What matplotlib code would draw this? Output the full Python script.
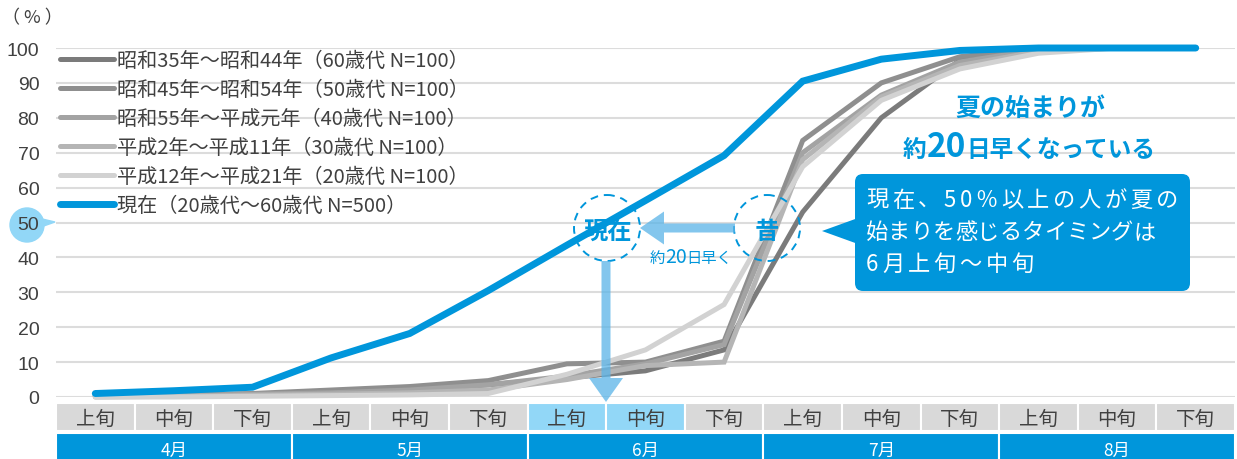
import matplotlib
matplotlib.use("Agg")
import matplotlib.pyplot as plt
from matplotlib.patches import Rectangle, Circle, FancyBboxPatch, Polygon, FancyArrow
from matplotlib.transforms import blended_transform_factory

plt.rcParams['font.family'] = ['Noto Sans CJK JP', 'DejaVu Sans']

# --- data -------------------------------------------------------------
periods = ['上旬', '中旬', '下旬'] * 5
months = ['4月', '5月', '6月', '7月', '8月']
highlight_periods = [6, 7]  # 6月上旬・中旬

series_labels = [
    '昭和35年～昭和44年（60歳代 N=100）',
    '昭和45年～昭和54年（50歳代 N=100）',
    '昭和55年～平成元年（40歳代 N=100）',
    '平成2年～平成11年（30歳代 N=100）',
    '平成12年～平成21年（20歳代 N=100）',
    '現在（20歳代～60歳代 N=500）',
]
showa35 = [0.3, 0.5, 0.8, 1.5, 2.0, 3.5, 5.5, 7.5, 13.5, 53.0, 80.0, 96.5, 99.5, 100, 100]
showa45 = [0.3, 0.5, 1.0, 2.0, 3.0, 4.7, 9.5, 10.0, 16.0, 73.5, 90.0, 97.5, 100, 100, 100]
showa55 = [0.2, 0.4, 0.8, 1.2, 2.0, 3.5, 6.0, 9.5, 15.0, 70.0, 86.5, 96.0, 99.5, 100, 100]
heisei2 = [0.0, 0.2, 0.5, 0.8, 1.2, 2.0, 5.0, 9.0, 10.0, 68.0, 86.0, 95.0, 99.0, 100, 100]
heisei12 = [0.0, 0.0, 0.2, 0.4, 0.6, 1.0, 6.5, 13.5, 26.5, 66.0, 85.0, 94.0, 98.5, 100, 100]
current = [1.0, 1.8, 2.8, 11.2, 18.2, 30.5, 43.5, 56.3, 69.2, 90.5, 96.8, 99.3, 100, 100, 100]

series = [showa35, showa45, showa55, heisei2, heisei12, current]
colors = ['#7b7b7b', '#8f8f8f', '#a3a3a3', '#b5b5b5', '#d2d2d2', '#0096db']
widths = [3.6, 3.6, 3.6, 3.6, 3.6, 5.0]

BLUE = '#0096db'
ARROW = '#5ab4e8'
TEXT = '#404040'
W, H = 1237, 460

fig = plt.figure(figsize=(W / 100, H / 100), dpi=100)
ax = fig.add_axes([56 / W, 1 - 398 / H, (1235 - 56) / W, 349 / H])

x = list(range(len(periods)))
for vals, c, lw, lab in zip(series, colors, widths, series_labels):
    ax.plot(x, vals, color=c, lw=lw, label=lab, solid_capstyle='round',
            solid_joinstyle='miter', clip_on=False, zorder=2)

ax.set_xlim(-0.5, len(periods) - 0.5)
ax.set_ylim(0, 100)
ax.set_yticks(range(0, 101, 10))
ax.set_xticks([])
ax.grid(axis='y', color='#dcdcdc', lw=1.5)
ax.set_axisbelow(True)
for s in ax.spines.values():
    s.set_visible(False)
ax.tick_params(axis='y', length=0, pad=12, labelsize=14, labelcolor=TEXT)
for t in ax.get_yticklabels():
    t.set_fontfamily('Liberation Sans')

leg = ax.legend(loc='upper left', bbox_to_anchor=(60 / W, 1 - 51 / H),
                bbox_transform=fig.transFigure, frameon=False, fontsize=14.5,
                handlelength=2.7, handletextpad=0.15, labelspacing=0.4,
                borderpad=0, borderaxespad=0, labelcolor=TEXT)

# --- period / month table under the axis ------------------------------
def ay(py):
    return (398 - py) / 349

blend = blended_transform_factory(ax.transData, ax.transAxes)
for i, p in enumerate(periods):
    fc = '#92d7f7' if i in highlight_periods else '#d9d9d9'
    ax.add_patch(Rectangle((i - 0.5, ay(432)), 1, ay(404) - ay(432), transform=blend,
                           facecolor=fc, edgecolor='white', lw=1.5, clip_on=False))
    ax.text(i, ay(419), p, transform=blend, ha='center', va='center',
            fontsize=14, color=TEXT)
for m, name in enumerate(months):
    ax.add_patch(Rectangle((3 * m - 0.5, ay(465)), 3, ay(434) - ay(465), transform=blend,
                           facecolor=BLUE, edgecolor='white', lw=1.5, clip_on=False))
    ax.text(3 * m + 1, ay(451), name, transform=blend, ha='center', va='center',
            fontsize=12.5, color='white')

# --- annotations in pixel space --------------------------------------
ov = fig.add_axes([0, 0, 1, 1], zorder=5)
ov.set_xlim(0, W)
ov.set_ylim(H, 0)
ov.axis('off')

# bubble behind the "50" tick (axis sits at zorder 0.5 with axisbelow)
ax.add_patch(Circle((27, 226), 17, transform=ov.transData, color='#92d7f7',
                    clip_on=False, zorder=0.2))
ax.add_patch(Polygon([(38, 219), (38, 229), (55, 223)], closed=True,
                     transform=ov.transData, color='#92d7f7', clip_on=False, zorder=0.2))

ov.text(2, 18, '（ % ）', fontsize=13, color=TEXT, va='center', ha='left')

renderer = fig.canvas.get_renderer()


def text_run(cx, base, parts, color):
    items = [ov.text(0, base, s, fontsize=sz, fontweight=wt, color=color, va='baseline')
             for s, sz, wt in parts]
    ws = [t.get_window_extent(renderer).width for t in items]
    x0 = cx - sum(ws) / 2
    for t, w in zip(items, ws):
        t.set_x(x0)
        x0 += w


def spaced(x0, base, s, size, track, color):
    for ch in s:
        t = ov.text(x0, base, ch, fontsize=size, color=color, va='baseline')
        x0 += t.get_window_extent(renderer).width + track


# dashed rings: now / before
for cx in (607, 767):
    ov.add_patch(Circle((cx, 229), 33, fill=False, edgecolor=BLUE, lw=1.4,
                        ls=(0, (4, 3))))
ov.text(608, 232, '現在', fontsize=17.5, fontweight='bold', color=BLUE,
        ha='center', va='center')
ov.text(767, 232, '昔', fontsize=17.5, fontweight='bold', color=BLUE,
        ha='center', va='center')

ov.add_patch(FancyArrow(735, 229, -95, 0, width=9, head_width=33, head_length=24,
                        length_includes_head=True, color=ARROW, alpha=0.75, lw=0))
ov.add_patch(FancyArrow(606, 262, 0, 141, width=9, head_width=34, head_length=24,
                        length_includes_head=True, color=ARROW, alpha=0.75, lw=0))

text_run(691, 263, [('約', 11, 'normal'), ('20', 14, 'normal'), ('日早く', 11, 'normal')], BLUE)

# headline
text_run(1030, 116, [('夏の始まりが', 18, 'bold')], BLUE)
text_run(1029, 157, [('約', 17, 'bold'), ('20', 24, 'bold'), ('日早くなっている', 17, 'bold')], BLUE)

# callout box
ov.add_patch(FancyBboxPatch((855, 175), 335, 117, boxstyle='round,pad=0,rounding_size=8',
                            facecolor=BLUE, edgecolor='none'))
ov.add_patch(Polygon([(858, 219), (858, 245), (822, 232)], closed=True,
                     facecolor=BLUE, edgecolor='none'))
spaced(866, 207, '現在、50％以上の人が夏の', 16, 3.6, 'white')
spaced(866, 239, '始まりを感じるタイミングは', 16, 0.0, 'white')
spaced(866, 271, '6月上旬～中旬', 16, 3.6, 'white')

fig.savefig('out.png', dpi=100)
